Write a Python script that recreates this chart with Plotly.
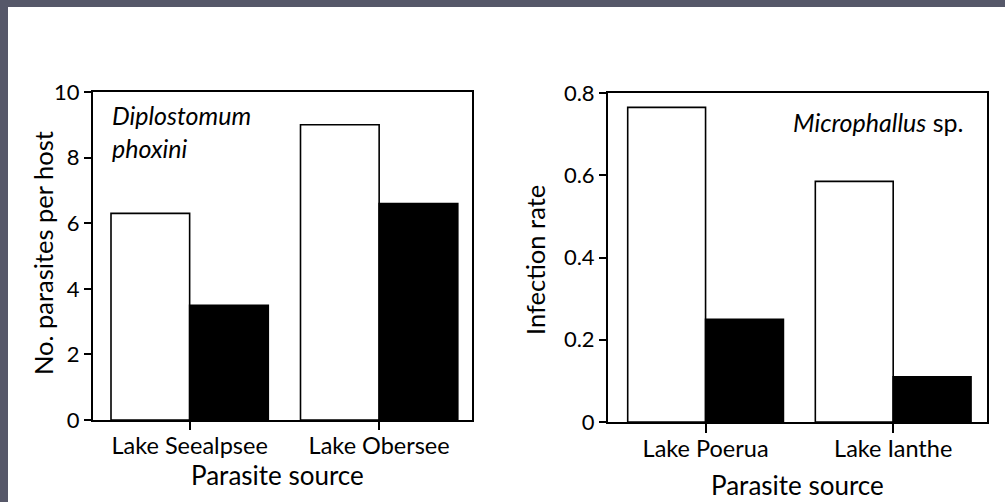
import plotly.graph_objects as go

W, H = 1005, 502

# Data
left_categories = ["Lake Seealpsee", "Lake Obersee"]
left_white = [6.3, 9.0]
left_black = [3.5, 6.6]
left_yticks = [0, 2, 4, 6, 8, 10]

right_categories = ["Lake Poerua", "Lake Ianthe"]
right_white = [0.765, 0.585]
right_black = [0.25, 0.11]
right_yticks = [0, 0.2, 0.4, 0.6, 0.8]
right_yticktext = ["0", "0.2", "0.4", "0.6", "0.8"]

FONT = "Lato"

fig = go.Figure()
bar_line = dict(color="black", width=1.6)
fig.add_trace(go.Bar(x=left_categories, y=left_white, marker=dict(color="white", line=bar_line),
                     xaxis="x", yaxis="y", offsetgroup="a", showlegend=False))
fig.add_trace(go.Bar(x=left_categories, y=left_black, marker=dict(color="black", line=bar_line),
                     xaxis="x", yaxis="y", offsetgroup="b", showlegend=False))
fig.add_trace(go.Bar(x=right_categories, y=right_white, marker=dict(color="white", line=bar_line),
                     xaxis="x2", yaxis="y2", offsetgroup="a", showlegend=False))
fig.add_trace(go.Bar(x=right_categories, y=right_black, marker=dict(color="black", line=bar_line),
                     xaxis="x2", yaxis="y2", offsetgroup="b", showlegend=False))

def px_x(p):
    return p / W

def px_y(p):
    return 1 - p / H

axis_common = dict(showline=True, linecolor="black", linewidth=2, mirror=True,
                   showgrid=False, zeroline=False, ticks="outside", tickcolor="black",
                   tickwidth=1.5, automargin=False)

fig.update_layout(
    width=W, height=H,
    margin=dict(l=0, r=0, t=0, b=0, autoexpand=False),
    paper_bgcolor="white", plot_bgcolor="white",
    barmode="group", bargap=0.17, bargroupgap=0,
    font=dict(family=FONT, color="black"),
    xaxis=dict(axis_common, domain=[px_x(93), px_x(472)], anchor="y",
               type="category", range=[-0.51, 1.49], ticklen=8,
               ticklabelstandoff=-4, tickfont=dict(size=23.5)),
    yaxis=dict(axis_common, domain=[px_y(420), px_y(92)], anchor="x",
               range=[0, 10], tickvals=left_yticks, ticklen=7,
               tickfont=dict(size=22)),
    xaxis2=dict(axis_common, domain=[px_x(608), px_x(987)], anchor="y2",
                type="category", range=[-0.52, 1.50], ticklen=9,
                ticklabelstandoff=-4, tickfont=dict(size=23.5)),
    yaxis2=dict(axis_common, domain=[px_y(422), px_y(93)], anchor="x2",
                range=[0, 0.8], tickvals=right_yticks,
                ticktext=right_yticktext, ticklen=7,
                tickfont=dict(size=22)),
    shapes=[
        dict(type="rect", xref="paper", yref="paper", x0=0, x1=px_x(8), y0=0, y1=1,
             fillcolor="#565869", line=dict(width=0), layer="above"),
        dict(type="rect", xref="paper", yref="paper", x0=0, x1=1, y0=px_y(7), y1=1,
             fillcolor="#565869", line=dict(width=0), layer="above"),
    ],
    annotations=[
        dict(text="No. parasites per host", textangle=-90, xref="paper", yref="paper",
             x=px_x(43), y=px_y(253), showarrow=False, font=dict(size=25.5),
             xanchor="center", yanchor="middle"),
        dict(text="Infection rate", textangle=-90, xref="paper", yref="paper",
             x=px_x(535), y=px_y(260), showarrow=False, font=dict(size=25.5),
             xanchor="center", yanchor="middle"),
        dict(text="Parasite source", xref="paper", yref="paper",
             x=px_x(277), y=px_y(475), showarrow=False, font=dict(size=26),
             xanchor="center", yanchor="middle"),
        dict(text="Parasite source", xref="paper", yref="paper",
             x=px_x(797), y=px_y(485), showarrow=False, font=dict(size=26),
             xanchor="center", yanchor="middle"),
        dict(text="<i>Diplostomum</i><br><i>phoxini</i>", xref="paper", yref="paper",
             x=px_x(110), y=px_y(98), showarrow=False, font=dict(size=25),
             xanchor="left", yanchor="top", align="left"),
        dict(text="<i>Microphallus</i> sp.", xref="paper", yref="paper",
             x=px_x(965), y=px_y(122), showarrow=False, font=dict(size=25),
             xanchor="right", yanchor="middle", align="right"),
    ],
)

fig.write_html("out.html")
